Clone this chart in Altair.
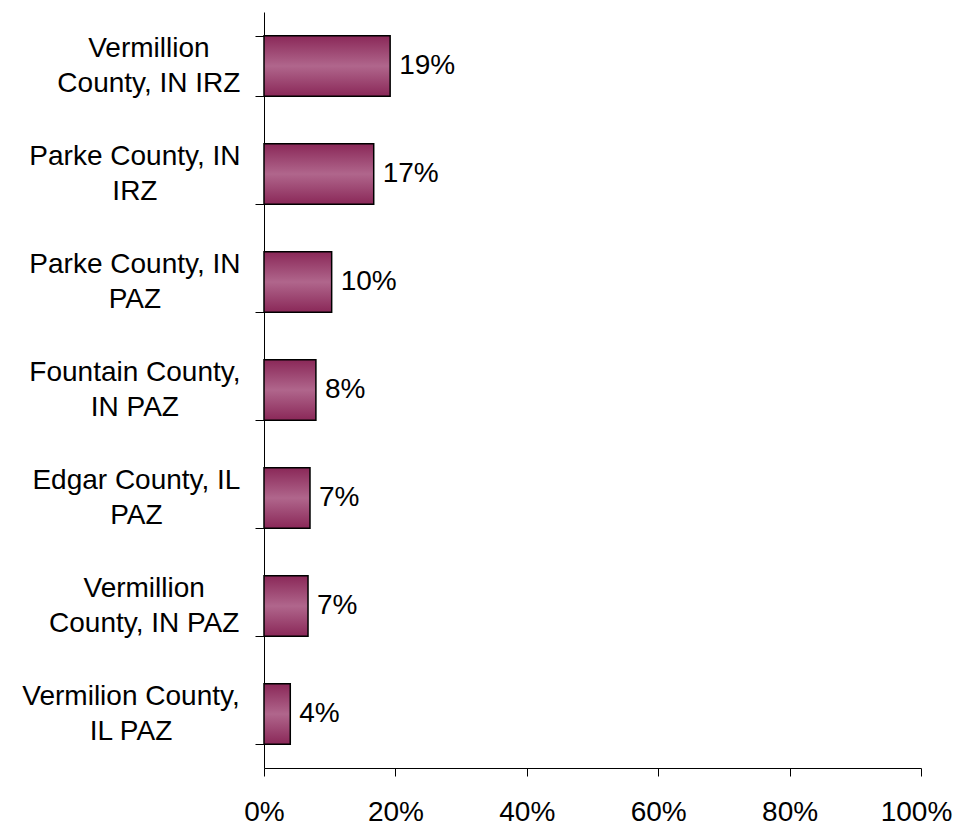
import json
import altair as alt
import pandas as pd

# Two-line labels (line break marked with "|")
categories = [
    "Vermillion|County, IN IRZ",
    "Parke County, IN|IRZ",
    "Parke County, IN|PAZ",
    "Fountain County,|IN PAZ",
    "Edgar County, IL|PAZ",
    "Vermillion|County, IN PAZ",
    "Vermilion County,|IL PAZ",
]
values = [0.192, 0.167, 0.103, 0.079, 0.070, 0.067, 0.040]
labels = ["19%", "17%", "10%", "8%", "7%", "7%", "4%"]

FONT = "Liberation Sans"
FS = 28
TICK = 9
RIGHT_GAP = 14  # gap between tick end and right edge of label block

# Arial / Liberation Sans advance widths (per 1000 em), used to center each
# label's lines within a block whose right edge sits next to the axis
_W = {
    "V": 667, "e": 556, "r": 333, "m": 833, "i": 222, "l": 222, "o": 556, "n": 556,
    "C": 722, "u": 556, "t": 278, "y": 500, ",": 278, " ": 278, "I": 278, "N": 722,
    "R": 722, "Z": 611, "P": 667, "a": 556, "k": 500, "A": 667, "F": 611, "E": 667,
    "d": 556, "g": 556, "L": 556,
}


def _width_px(s):
    return sum(_W.get(c, 556) for c in s) * FS / 1000.0


pad_map = {
    c: round(RIGHT_GAP + max(_width_px(s) for s in c.split("|")) / 2.0, 1)
    for c in categories
}
pad_expr = json.dumps(pad_map) + "[datum.label]"

df = pd.DataFrame({"cat": categories, "val": values, "lab": labels})

grad = alt.Gradient(
    gradient="linear",
    stops=[
        alt.GradientStop(color="#8a2858", offset=0),
        alt.GradientStop(color="#b0668c", offset=0.5),
        alt.GradientStop(color="#8a2858", offset=1),
    ],
    x1=0, x2=0, y1=0, y2=1,
)

y_enc = alt.Y(
    "cat:N",
    sort=categories,
    scale=alt.Scale(paddingInner=0.44, paddingOuter=0.22),
    axis=alt.Axis(
        title=None,
        tickBand="extent",
        tickSize=TICK,
        tickColor="black",
        domainColor="black",
        labelAlign="center",
        labelBaseline="middle",
        labelPadding=alt.ExprRef(pad_expr),
        labelOffset=-17.5,
        labelFont=FONT,
        labelFontSize=FS,
        labelColor="black",
        labelLineHeight=35,
        labelExpr="split(datum.label, '|')",
        labelLimit=400,
    ),
)

x_enc = alt.X(
    "val:Q",
    scale=alt.Scale(domain=[0, 1], nice=False),
    axis=alt.Axis(
        title=None,
        values=[0, 0.2, 0.4, 0.6, 0.8, 1.0],
        format=".0%",
        grid=False,
        tickSize=8,
        tickColor="black",
        domainColor="black",
        labelPadding=22,
        labelOffset=alt.ExprRef("datum.value >= 1 ? -5 : 0"),
        labelFont=FONT,
        labelFontSize=FS,
        labelColor="black",
        labelFlush=False,
    ),
)

bars = alt.Chart(df).mark_bar(
    fill=grad, stroke="black", strokeWidth=1.5
).encode(x=x_enc, y=y_enc)

text = alt.Chart(df).mark_text(
    align="left", baseline="middle", dx=9, font=FONT, fontSize=FS, color="black"
).encode(x="val:Q", y=alt.Y("cat:N", sort=categories), text="lab:N")

chart = (
    alt.layer(bars, text)
    .properties(
        width=657,
        height=756,
        background="white",
        autosize=alt.AutoSizeParams(type="none"),
        padding={"left": 256, "top": 4, "right": 33, "bottom": 60},
    )
    .configure_view(stroke=None, strokeWidth=0)
)

chart.save("out.html", embed_options={"renderer": "svg", "actions": False})
